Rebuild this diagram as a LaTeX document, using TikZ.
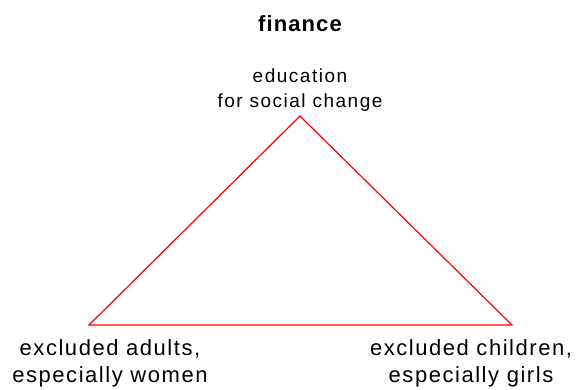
\documentclass[tikz,border=0pt]{standalone}
\usepackage{fontspec}
\setmainfont{Liberation Sans}
\newfontfamily\cornerfont[LetterSpace=7]{Liberation Sans}
\newfontfamily\apexfont[LetterSpace=8]{Liberation Sans}
\newfontfamily\titlefont[LetterSpace=5]{Liberation Sans}
\usetikzlibrary{positioning}
\begin{document}
\begin{tikzpicture}[x=1pt,y=-1pt,
	corner text/.style={font=\cornerfont\fontsize{22}{27}\selectfont,align=center,inner sep=0pt},
	side/.style={draw=red,line width=1.2pt}]
	\useasboundingbox (0,0) rectangle (578,389);
	
	%title
	\node[font=\titlefont\bfseries\fontsize{22}{26}\selectfont,anchor=base,inner sep=0pt] (title) at (300,31) {finance}; %title
	
	%triangle corners
	\coordinate (top) at (300,116); %apex
	\coordinate (left) at (89,325); %left corner
	\coordinate (right) at (512,325); %right corner
	\draw[side] (top) -- (left) -- (right) -- cycle; %triangle
	
	%corner labels
	\node[corner text,font=\apexfont\fontsize{19}{25}\selectfont,above=4pt of top] (educ) {education\\for social change}; %top label
	\node[corner text,below=14pt of left,xshift=21pt] (adults) {excluded adults,\\especially women}; %left label
	\node[corner text,below=14pt of right,xshift=-41pt] (children) {excluded children,\\especially girls}; %right label
\end{tikzpicture}
\end{document}
